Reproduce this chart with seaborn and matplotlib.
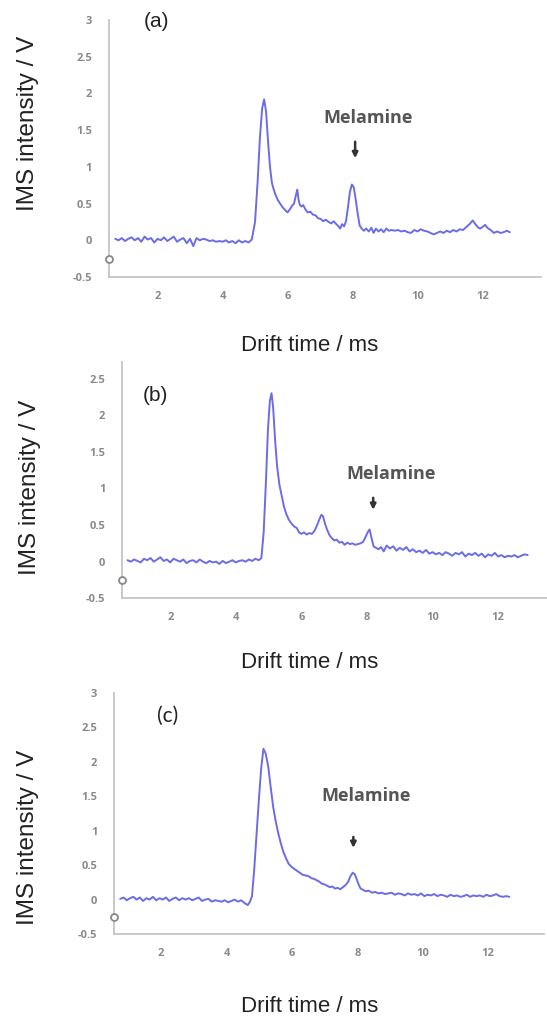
import numpy as np
import pandas as pd
import matplotlib
matplotlib.use("Agg")
import matplotlib.pyplot as plt
import seaborn as sns

# ---- data ----
drift_a = [0.70, 0.80, 0.90, 1.00, 1.10, 1.20, 1.30, 1.40, 1.50, 1.60,
           1.70, 1.80, 1.90, 2.00, 2.10, 2.20, 2.30, 2.40, 2.50, 2.60,
           2.70, 2.80, 2.90, 3.00, 3.10, 3.20, 3.30, 3.40, 3.50, 3.60,
           3.70, 3.80, 3.90, 4.00, 4.10, 4.20, 4.30, 4.40, 4.50, 4.60,
           4.70, 4.80, 4.90,
           5.00, 5.08, 5.15, 5.22, 5.28, 5.34, 5.40, 5.46, 5.52, 5.57,
           5.63, 5.70, 5.77, 5.85, 5.93, 6.00, 6.07, 6.14, 6.20, 6.25,
           6.30, 6.34, 6.38, 6.43, 6.48, 6.55, 6.62, 6.70, 6.78, 6.86,
           6.94, 7.02, 7.10, 7.18, 7.26, 7.34, 7.42, 7.50, 7.57, 7.62,
           7.68, 7.74, 7.80, 7.86, 7.92, 7.98, 8.04, 8.10, 8.16, 8.22,
           8.28, 8.35, 8.42, 8.50, 8.58, 8.65, 8.72, 8.80, 8.88, 8.96,
           9.04, 9.12, 9.20, 9.30, 9.40, 9.50, 9.60, 9.70, 9.80, 9.90,
           10.0, 10.1, 10.2, 10.3, 10.4, 10.5, 10.6, 10.7, 10.8, 10.9,
           11.0, 11.1, 11.2, 11.3, 11.4, 11.5, 11.6, 11.7, 11.78, 11.85,
           11.92, 12.0, 12.08, 12.15, 12.25, 12.35, 12.45, 12.55, 12.65, 12.75,
           12.84]
ims_a = [0.02, 0.00, 0.03, -0.01, 0.02, 0.04, 0.00, 0.03, -0.02, 0.05,
         0.01, 0.03, -0.03, 0.02, 0.00, 0.04, -0.01, 0.02, 0.05, -0.02,
         0.01, 0.03, -0.04, 0.02, -0.08, 0.03, 0.00, 0.02, 0.01, -0.01,
         0.00, -0.02, -0.01, -0.02, 0.00, -0.03, -0.01, -0.04, 0.00, -0.03,
         -0.01, -0.03, 0.01,
         0.25, 0.80, 1.40, 1.80, 1.92, 1.75, 1.35, 1.00, 0.78, 0.70,
         0.62, 0.55, 0.50, 0.45, 0.41, 0.38, 0.42, 0.47, 0.50, 0.60,
         0.69, 0.55, 0.48, 0.46, 0.48, 0.42, 0.38, 0.39, 0.35, 0.34,
         0.30, 0.29, 0.26, 0.28, 0.25, 0.23, 0.26, 0.22, 0.19, 0.16,
         0.22, 0.19, 0.26, 0.45, 0.66, 0.76, 0.72, 0.55, 0.36, 0.20,
         0.16, 0.13, 0.16, 0.12, 0.17, 0.10, 0.16, 0.12, 0.15, 0.11,
         0.16, 0.13, 0.14, 0.13, 0.14, 0.12, 0.13, 0.11, 0.10, 0.14,
         0.12, 0.15, 0.13, 0.12, 0.10, 0.08, 0.10, 0.12, 0.10, 0.13,
         0.11, 0.14, 0.12, 0.15, 0.14, 0.18, 0.22, 0.27, 0.22, 0.18,
         0.16, 0.18, 0.21, 0.17, 0.14, 0.10, 0.12, 0.10, 0.11, 0.13,
         0.11]

drift_b = [0.70, 0.80, 0.90, 1.00, 1.10, 1.20, 1.30, 1.40, 1.50, 1.60,
           1.70, 1.80, 1.90, 2.00, 2.10, 2.20, 2.30, 2.40, 2.50, 2.60,
           2.70, 2.80, 2.90, 3.00, 3.10, 3.20, 3.30, 3.40, 3.50, 3.60,
           3.70, 3.80, 3.90, 4.00, 4.10, 4.20, 4.30, 4.40, 4.50, 4.60,
           4.70,
           4.78, 4.85, 4.92, 4.98, 5.04, 5.09, 5.14, 5.20, 5.26, 5.33,
           5.40, 5.47, 5.54, 5.62, 5.70, 5.78, 5.86, 5.93, 6.00, 6.08,
           6.16, 6.24, 6.32, 6.40, 6.48, 6.55, 6.61, 6.66, 6.72, 6.79,
           6.86, 6.93, 7.00, 7.08, 7.16, 7.24, 7.32, 7.40, 7.48, 7.56,
           7.64, 7.72, 7.80, 7.88, 7.95, 8.02, 8.08, 8.14, 8.20, 8.27,
           8.35, 8.43, 8.51, 8.60, 8.70, 8.80, 8.90, 9.00, 9.10, 9.20,
           9.30, 9.40, 9.50, 9.60, 9.70, 9.80, 9.90, 10.0, 10.1, 10.2,
           10.3, 10.4, 10.5, 10.6, 10.7, 10.8, 10.9, 11.0, 11.1, 11.2,
           11.3, 11.4, 11.5, 11.6, 11.7, 11.8, 11.9, 12.0, 12.1, 12.2,
           12.3, 12.4, 12.5, 12.6, 12.7, 12.8, 12.9]
ims_b = [0.02, 0.00, 0.03, 0.01, -0.01, 0.04, 0.02, 0.05, 0.00, 0.03,
         0.06, 0.01, 0.03, -0.01, 0.04, 0.02, 0.00, 0.03, -0.02, 0.01,
         0.02, -0.01, 0.03, 0.00, -0.02, 0.01, -0.01, 0.00, -0.03, 0.01,
         -0.02, 0.00, 0.02, -0.01, 0.01, 0.02, 0.00, 0.03, 0.01, 0.04,
         0.02,
         0.05, 0.40, 1.10, 1.80, 2.20, 2.30, 2.10, 1.65, 1.30, 1.05,
         0.90, 0.75, 0.65, 0.57, 0.52, 0.48, 0.46, 0.40, 0.38, 0.40,
         0.37, 0.39, 0.38, 0.42, 0.50, 0.58, 0.64, 0.62, 0.52, 0.43,
         0.36, 0.32, 0.29, 0.30, 0.26, 0.27, 0.23, 0.26, 0.24, 0.25,
         0.23, 0.24, 0.25, 0.27, 0.33, 0.40, 0.44, 0.32, 0.21, 0.19,
         0.17, 0.20, 0.14, 0.22, 0.18, 0.21, 0.15, 0.19, 0.16, 0.20,
         0.14, 0.17, 0.13, 0.15, 0.12, 0.16, 0.11, 0.13, 0.10, 0.12,
         0.09, 0.13, 0.11, 0.08, 0.12, 0.10, 0.13, 0.07, 0.11, 0.09,
         0.12, 0.08, 0.11, 0.06, 0.10, 0.08, 0.12, 0.07, 0.09, 0.06,
         0.08, 0.07, 0.09, 0.06, 0.08, 0.10, 0.09]

drift_c = [0.75, 0.85, 0.95, 1.05, 1.15, 1.25, 1.35, 1.45, 1.55, 1.65,
           1.75, 1.85, 1.95, 2.05, 2.15, 2.25, 2.35, 2.45, 2.55, 2.65,
           2.75, 2.85, 2.95, 3.05, 3.15, 3.25, 3.35, 3.45, 3.55, 3.65,
           3.75, 3.85, 3.95, 4.05, 4.15, 4.25, 4.35, 4.45, 4.55, 4.65,
           4.72, 4.78, 4.85, 4.92, 4.99, 5.06, 5.13, 5.20, 5.28, 5.36,
           5.43, 5.50, 5.58, 5.66, 5.74, 5.82, 5.90, 5.98, 6.06, 6.15,
           6.24, 6.33, 6.42, 6.51, 6.60, 6.68, 6.76, 6.84, 6.92, 7.00,
           7.08, 7.16, 7.24, 7.32, 7.40, 7.48, 7.56, 7.64, 7.72, 7.79,
           7.86, 7.92, 7.98, 8.04, 8.10, 8.18, 8.26, 8.35, 8.45, 8.55,
           8.65, 8.75, 8.85, 8.95, 9.05, 9.15, 9.25, 9.35, 9.45, 9.55,
           9.65, 9.75, 9.85, 9.95, 10.05, 10.15, 10.25, 10.35, 10.45, 10.55,
           10.65, 10.75, 10.85, 10.95, 11.05, 11.15, 11.25, 11.35, 11.45, 11.55,
           11.65, 11.75, 11.85, 11.95, 12.05, 12.15, 12.25, 12.35, 12.45, 12.55,
           12.65]
ims_c = [0.01, 0.03, -0.01, 0.02, 0.04, 0.00, 0.03, -0.02, 0.02, 0.00,
         0.04, -0.01, 0.02, 0.00, 0.03, -0.02, 0.01, 0.03, -0.01, 0.02,
         0.00, 0.02, -0.01, 0.01, 0.03, -0.02, 0.00, 0.01, -0.03, -0.01,
         -0.02, -0.03, -0.01, -0.04, -0.02, 0.00, -0.03, -0.01, -0.05, -0.08,
         -0.03, 0.05, 0.45, 0.95, 1.45, 1.90, 2.19, 2.12, 1.92, 1.60,
         1.34, 1.15, 0.97, 0.82, 0.69, 0.60, 0.52, 0.48, 0.45, 0.42,
         0.39, 0.36, 0.35, 0.34, 0.31, 0.30, 0.28, 0.26, 0.23, 0.22,
         0.20, 0.18, 0.19, 0.16, 0.17, 0.15, 0.18, 0.21, 0.26, 0.34,
         0.39, 0.37, 0.30, 0.22, 0.16, 0.14, 0.12, 0.13, 0.10, 0.11,
         0.09, 0.10, 0.08, 0.09, 0.10, 0.07, 0.09, 0.08, 0.06, 0.09,
         0.07, 0.08, 0.06, 0.09, 0.05, 0.07, 0.06, 0.08, 0.05, 0.07,
         0.06, 0.04, 0.07, 0.05, 0.06, 0.04, 0.05, 0.07, 0.04, 0.06,
         0.05, 0.06, 0.04, 0.07, 0.05, 0.06, 0.08, 0.05, 0.04, 0.05,
         0.04]

x_ticks = [2, 4, 6, 8, 10, 12]
y_ticks_a = [-0.5, 0, 0.5, 1, 1.5, 2, 2.5, 3]
y_labels_a = ["-0.5", "0", "0.5", "1", "1.5", "2", "2.5", "3"]
y_ticks_b = [-0.5, 0, 0.5, 1, 1.5, 2, 2.5]
y_labels_b = ["-0.5", "0", "0.5", "1", "1.5", "2", "2.5"]
panel_names = ["(a)", "(b)", "(c)"]

W, H = 547, 1016
LINE = "#5c5ce4"
AXIS = "#c4c4c4"

sns.set_style("white")
plt.rcParams["font.family"] = ["Liberation Sans", "DejaVu Sans"]

fig = plt.figure(figsize=(W / 100, H / 100), dpi=100)


def px_axes(left, right, top, bottom):
    return fig.add_axes([left / W, 1 - bottom / H, (right - left) / W, (bottom - top) / H])


panels = [
    # x, y, axes box px (l, r, t, b), xlim, ylim, yticks, ylabels, label pos, melamine text, arrow
    dict(x=drift_a, y=ims_a, box=(108.8, 541, 20, 277), xlim=(0.5, 13.8), ylim=(-0.5, 3.0),
         yt=y_ticks_a, yl=y_labels_a, lab=(1.98, 2.98), mel=(8.47, 1.66), arr=(8.08, 1.38, 1.08),
         ylab=(28, 123), xlab=(310, 345), labfont="Liberation Sans"),
    dict(x=drift_b, y=ims_b, box=(122, 547, 361.7, 598.3), xlim=(0.53, 13.49), ylim=(-0.5, 2.73),
         yt=y_ticks_b, yl=y_labels_b, lab=(1.54, 2.27), mel=(8.72, 1.20), arr=(8.19, 0.91, 0.67),
         ylab=(29.6, 487), xlab=(310, 663), labfont="Liberation Sans"),
    dict(x=drift_c, y=ims_c, box=(114, 544, 693, 934), xlim=(0.56, 13.71), ylim=(-0.5, 3.0),
         yt=y_ticks_a, yl=y_labels_a, lab=(2.19, 2.67), mel=(8.27, 1.51), arr=(7.88, 0.95, 0.71),
         ylab=(28, 837), xlab=(310, 1007), labfont="Lato"),
]

for name, p in zip(panel_names, panels):
    ax = px_axes(*p["box"])
    df = pd.DataFrame({"drift": p["x"], "ims": p["y"]})
    sns.lineplot(data=df, x="drift", y="ims", ax=ax, color=LINE, lw=1.4,
                 sort=False, estimator=None, alpha=0.9)
    ax.set_xlim(*p["xlim"])
    ax.set_ylim(*p["ylim"])
    ax.set_xticks(x_ticks)
    ax.set_xticklabels([str(t) for t in x_ticks])
    ax.set_yticks(p["yt"])
    ax.set_yticklabels(p["yl"])
    ax.set(xlabel="", ylabel="")
    for s in ["top", "right"]:
        ax.spines[s].set_visible(False)
    for s in ["left", "bottom"]:
        ax.spines[s].set_color(AXIS)
        ax.spines[s].set_linewidth(1.3)
    ax.tick_params(axis="both", direction="in", length=3, width=1, color=AXIS,
                   labelcolor="#8a8a8a", labelsize=8)
    ax.tick_params(axis="y", pad=12)
    ax.tick_params(axis="x", pad=10)
    for t in ax.get_xticklabels() + ax.get_yticklabels():
        t.set_fontfamily("Open Sans")
        t.set_fontweight("bold")

    # small open circle on the y axis
    ax.plot([p["xlim"][0]], [-0.25], marker="o", ms=5, mfc="white", mec="#888888",
            mew=1.3, clip_on=False, zorder=5)

    ax.text(p["lab"][0], p["lab"][1], name, fontsize=15, color="#222222",
            ha="center", va="center", family=p["labfont"])
    ax.text(p["mel"][0], p["mel"][1], "Melamine", fontsize=13, fontweight="bold",
            color="#555555", ha="center", va="center", family="Open Sans")
    ax_x, y0, y1 = p["arr"]
    ax.annotate("", xy=(ax_x, y1), xytext=(ax_x, y0),
                arrowprops=dict(arrowstyle="-|>", color="#333333", lw=1.8, mutation_scale=8))

    fig.text(p["ylab"][0] / W, 1 - p["ylab"][1] / H, "IMS intensity / V", rotation=90,
             ha="center", va="center", fontsize=17.5, color="#222222")
    fig.text(p["xlab"][0] / W, 1 - p["xlab"][1] / H, "Drift time / ms",
             ha="center", va="center", fontsize=16, color="#222222")

fig.savefig("out.png", dpi=100)
